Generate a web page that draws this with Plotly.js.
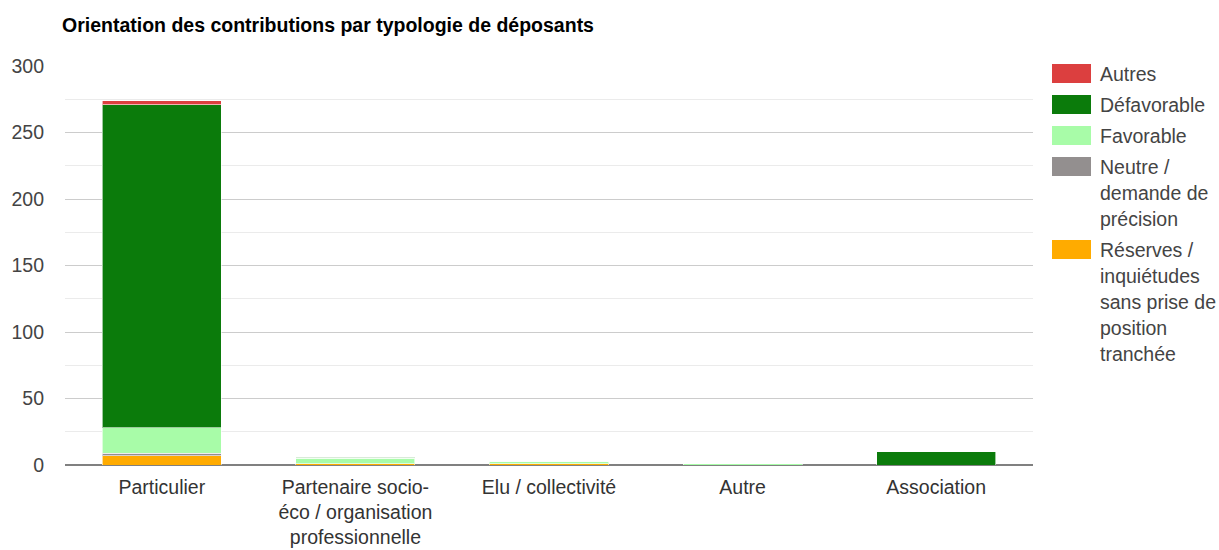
<!DOCTYPE html>
<html>
<head>
<meta charset="utf-8">
<script src="https://cdn.plot.ly/plotly-3.0.1.min.js"></script>
<style>
html,body{margin:0;padding:0;background:#fff;}
#chart{width:1219px;height:550px;}
</style>
</head>
<body>
<div id="chart"></div>
<script>
const categories = ["Particulier", "Partenaire socio-<br>éco / organisation<br>professionnelle", "Elu / collectivité", "Autre", "Association"];
const reserves = [7, 1, 1, 0, 0];
const neutre = [2, 0, 0, 0, 0];
const favorable = [19, 4, 2, 1, 0];
const defavorable = [243, 1, 0, 0, 10];
const autres = [3, 0, 0, 0, 0];
const seriesNames = ["Réserves / inquiétudes sans prise de position tranchée", "Neutre / demande de précision", "Favorable", "Défavorable", "Autres"];
const legendLines = [
  ["Autres"],
  ["Défavorable"],
  ["Favorable"],
  ["Neutre /", "demande de", "précision"],
  ["Réserves /", "inquiétudes", "sans prise de", "position", "tranchée"]
];
const colors = ["#ffab00", "#938f8f", "#a8fca8", "#0b7b0b", "#dc3f3f"];
const legendColors = ["#dc3f3f", "#0b7b0b", "#a8fca8", "#938f8f", "#ffab00"];

const FONT = "Liberation Sans, Arial, sans-serif";
const seriesValues = [reserves, neutre, favorable, defavorable, autres];
const traces = seriesValues.map((vals, i) => ({
  type: "bar",
  name: seriesNames[i],
  x: categories,
  y: vals,
  marker: {color: colors[i], line: {color: "rgba(255,255,255,0.6)", width: 1}},
  hoverinfo: "x+y+name"
}));

// custom legend (paper coordinates)
const shapes = [];
const annotations = [];
const H = 550 - 66 - 85;
const W = 1219 - 65 - 186;
function px2x(px){ return (px - 65) / W; }
function py2y(py){ return (465 - py) / H; }
let yPos = 74;
legendLines.forEach((lines, i) => {
  shapes.push({type: "rect", xref: "paper", yref: "paper",
    x0: px2x(1052), x1: px2x(1091), y0: py2y(yPos - 10), y1: py2y(yPos + 9),
    fillcolor: legendColors[i], line: {width: 0}});
  lines.forEach((t, j) => {
    annotations.push({xref: "paper", yref: "paper", x: px2x(1098), y: py2y(yPos + j * 26),
      xanchor: "left", yanchor: "middle", text: t, showarrow: false,
      font: {family: FONT, size: 19.5, color: "#444"}});
  });
  yPos += (lines.length - 1) * 26 + 31;
});

const layout = {
  width: 1219, height: 550,
  margin: {l: 65, r: 186, t: 66, b: 85},
  paper_bgcolor: "#fff", plot_bgcolor: "#fff",
  barmode: "stack",
  bargap: 0.385,
  showlegend: false,
  title: {text: "<b>Orientation des contributions par typologie de déposants</b>",
    xref: "container", yref: "container", x: 62/1219, y: 1 - 25/550,
    xanchor: "left", yanchor: "middle",
    font: {family: FONT, size: 19.5, color: "#000"}},
  font: {family: FONT, size: 19.5, color: "#444"},
  xaxis: {type: "category", showgrid: false, showline: false, ticks: "", ticklen: 0,
    ticklabelstandoff: 8,
    tickfont: {size: 19.5, color: "#333"}, fixedrange: true},
  yaxis: {range: [0, 300], tickvals: [0, 50, 100, 150, 200, 250, 300],
    showgrid: true, gridcolor: "#cccccc", gridwidth: 1,
    minor: {tickvals: [25, 75, 125, 175, 225, 275], showgrid: true, gridcolor: "#ebebeb", gridwidth: 1},
    zeroline: true, zerolinecolor: "#808080", zerolinewidth: 2,
    showline: false, ticks: "", ticklabelstandoff: 20,
    tickfont: {size: 19.5, color: "#444"}, fixedrange: true},
  shapes: shapes,
  annotations: annotations
};

Plotly.newPlot("chart", traces, layout, {displayModeBar: false});
</script>
</body>
</html>
